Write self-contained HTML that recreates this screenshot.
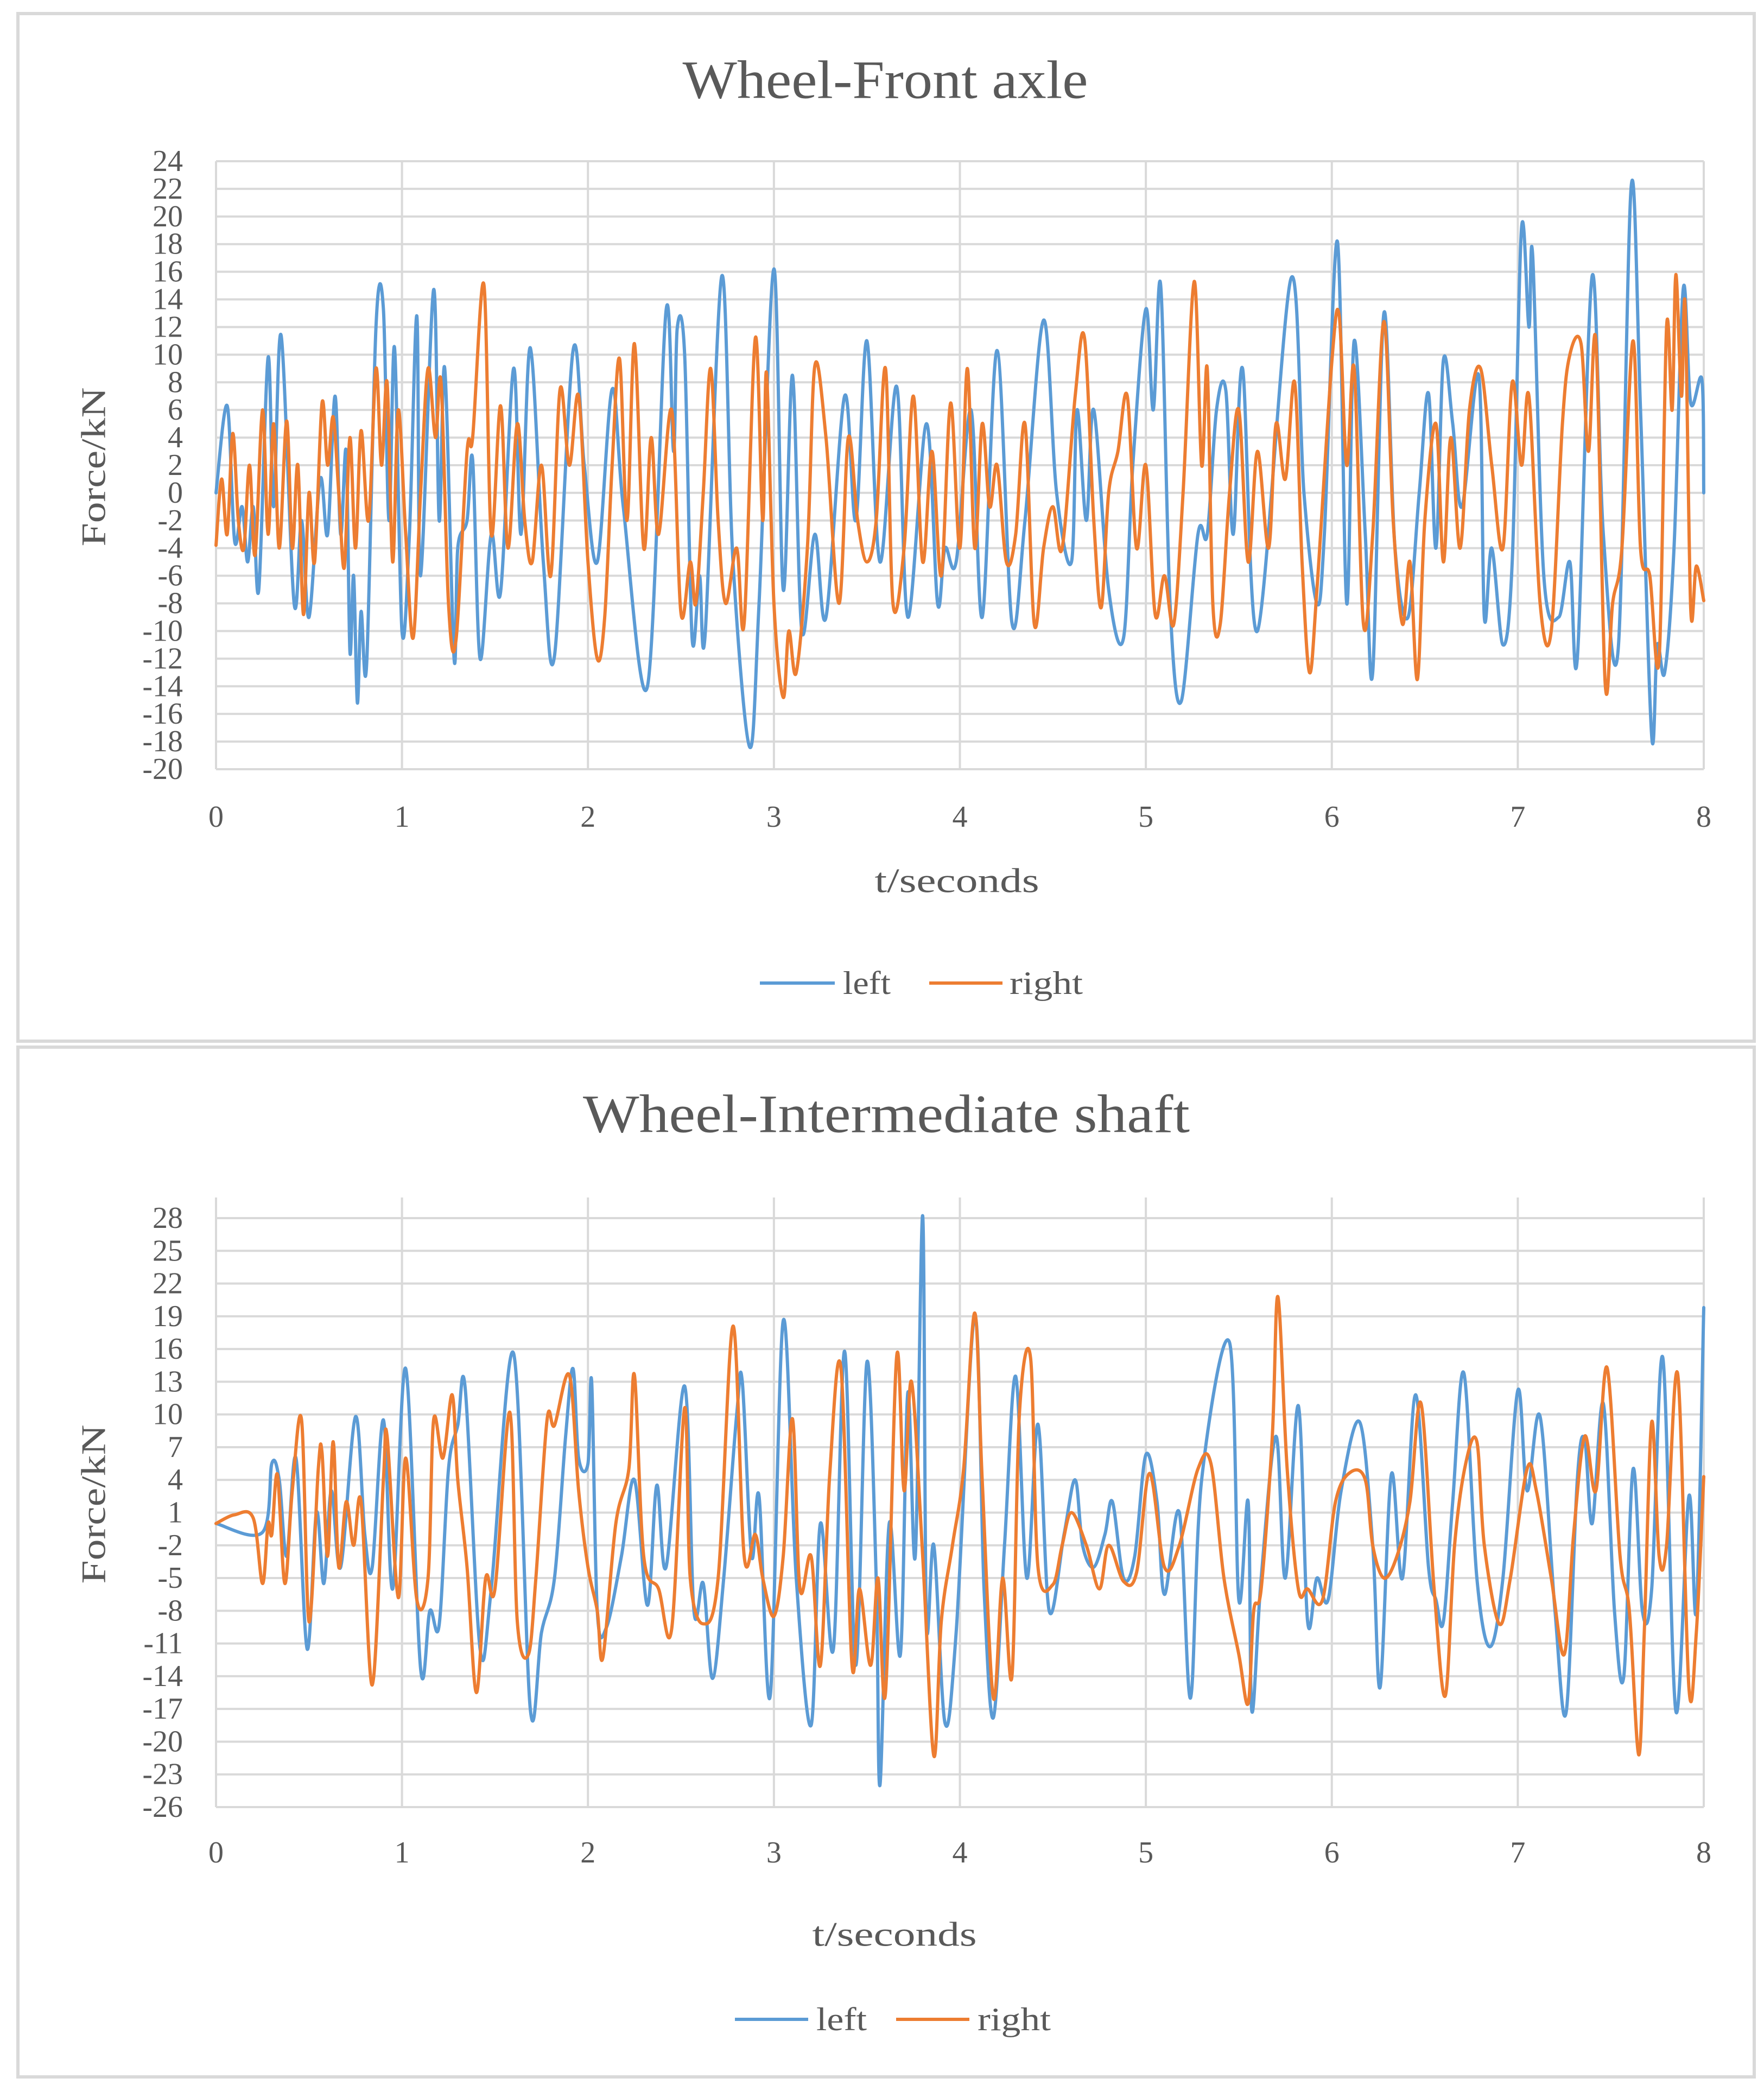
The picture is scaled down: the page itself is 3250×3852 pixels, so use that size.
<!DOCTYPE html>
<html><head><meta charset="utf-8"><style>
html,body{margin:0;padding:0;background:#fff;}
svg{display:block;}
text{font-family:"Liberation Serif",serif;fill:#595959;}
</style></head>
<body>
<svg id="svg" width="3250" height="3852" viewBox="0 0 3250 3852" xmlns="http://www.w3.org/2000/svg">
<rect x="0" y="0" width="3250" height="3852" fill="#fff"/>
<rect x="33" y="25" width="3199" height="1893" fill="#fff" stroke="#d9d9d9" stroke-width="6"/>
<rect x="33" y="1929" width="3199" height="1897" fill="#fff" stroke="#d9d9d9" stroke-width="6"/>
<g id="top"></g>
<g id="bot"></g>
<text x="1631" y="147" font-size="100" text-anchor="middle" dominant-baseline="central" textLength="747" lengthAdjust="spacingAndGlyphs">Wheel-Front axle</text>
<text x="1633" y="2052" font-size="100" text-anchor="middle" dominant-baseline="central" textLength="1118" lengthAdjust="spacingAndGlyphs">Wheel-Intermediate shaft</text>
<text x="1763" y="1622" font-size="64" text-anchor="middle" dominant-baseline="central" textLength="303" lengthAdjust="spacingAndGlyphs">t/seconds</text>
<text x="1648" y="3563" font-size="64" text-anchor="middle" dominant-baseline="central" textLength="303" lengthAdjust="spacingAndGlyphs">t/seconds</text>
<text transform="translate(172,860) rotate(-90)" font-size="64" text-anchor="middle" dominant-baseline="central" textLength="293" lengthAdjust="spacingAndGlyphs">Force/kN</text>
<text transform="translate(172,2771) rotate(-90)" font-size="64" text-anchor="middle" dominant-baseline="central" textLength="293" lengthAdjust="spacingAndGlyphs">Force/kN</text>
<g>
<line x1="1400" y1="1811" x2="1538" y2="1811" stroke="#5B9BD5" stroke-width="6"/>
<text x="1553" y="1811" font-size="60" dominant-baseline="central" textLength="88" lengthAdjust="spacingAndGlyphs">left</text>
<line x1="1712" y1="1811" x2="1847" y2="1811" stroke="#ED7D31" stroke-width="6"/>
<text x="1860" y="1811" font-size="60" dominant-baseline="central" textLength="135" lengthAdjust="spacingAndGlyphs">right</text>
</g>
<g>
<line x1="1354" y1="3720" x2="1489" y2="3720" stroke="#5B9BD5" stroke-width="6"/>
<text x="1504" y="3720" font-size="60" dominant-baseline="central" textLength="93" lengthAdjust="spacingAndGlyphs">left</text>
<line x1="1651" y1="3720" x2="1786" y2="3720" stroke="#ED7D31" stroke-width="6"/>
<text x="1801" y="3720" font-size="60" dominant-baseline="central" textLength="135" lengthAdjust="spacingAndGlyphs">right</text>
</g>
</svg>
<script>
const xTicks = [0,1,2,3,4,5,6,7,8];
const topYTicks = [24,22,20,18,16,14,12,10,8,6,4,2,0,-2,-4,-6,-8,-10,-12,-14,-16,-18,-20];
const botYTicks = [28,25,22,19,16,13,10,7,4,1,-2,-5,-8,-11,-14,-17,-20,-23,-26];

const topLeftT = [0,0.06,0.1,0.14,0.17,0.2,0.23,0.28,0.31,0.35,0.42,0.46,0.5,0.56,0.6,0.64,0.67,0.7,0.72,0.74,0.76,0.78,0.81,0.86,0.9,0.93,0.96,1.0,1.04,1.08,1.1,1.17,1.2,1.23,1.28,1.3,1.35,1.38,1.42,1.48,1.53,1.6,1.64,1.69,1.76,1.82,1.92,1.98,2.05,2.13,2.19,2.32,2.42,2.46,2.48,2.52,2.56,2.6,2.63,2.72,2.78,2.87,2.92,3.0,3.05,3.1,3.15,3.22,3.28,3.38,3.44,3.5,3.57,3.66,3.72,3.82,3.88,3.92,3.98,4.06,4.12,4.2,4.28,4.35,4.45,4.52,4.6,4.63,4.68,4.72,4.8,4.88,4.93,5.0,5.04,5.08,5.13,5.19,5.28,5.33,5.38,5.43,5.47,5.52,5.6,5.78,5.85,5.92,5.96,6.03,6.08,6.12,6.18,6.22,6.28,6.34,6.41,6.47,6.52,6.56,6.6,6.65,6.7,6.79,6.82,6.86,6.92,6.97,7.02,7.06,7.08,7.14,7.22,7.28,7.32,7.4,7.46,7.54,7.61,7.66,7.72,7.75,7.79,7.84,7.89,7.93,7.99,8.0];
const topLeftV = [0,6.3,-3.5,-1,-5,-1,-7,9.8,-1,11.4,-8,-2,-9,1,-3,7,-3,3,-11.5,-6,-15.2,-8.6,-12.4,12,13.3,-2,10.5,-10,-3,12.8,-6,14.7,-2,9,-12,-4,-2,2.4,-12,-3,-7.2,9,-3,10.5,-5,-11.8,10.3,2,-5,7.5,-1,-14,13.2,3,11.9,10,-10.5,-6,-10.3,15.7,-5,-18.4,-8,16.2,-7,8.5,-10,-3,-9,7,-2,11,-5,7.7,-9,5,-8,-4,-5,6,-9,10.3,-9.4,-2,12.5,0,-5,6,-2,6,-7,-10.5,2,13.3,6,15,-8,-15.1,-3,-3,6,7.4,-3,9,-10,15.5,0,-8,-3,18.2,-8,11,-3,-13,13,-4,-9,0,7.2,-4,9.6,5,-1,8.5,-9,-4,-11,-5,19.1,12,17.2,-6,-9,-5,-12,15.7,-3,-11.3,22.2,6,-17.6,-11,-13,-4,14.8,6.5,8.2,0];

const topRightT = [0,0.03,0.06,0.09,0.12,0.15,0.18,0.21,0.25,0.28,0.31,0.34,0.38,0.41,0.44,0.47,0.5,0.53,0.57,0.6,0.63,0.66,0.69,0.72,0.75,0.78,0.82,0.86,0.89,0.92,0.95,0.98,1.02,1.06,1.1,1.14,1.18,1.21,1.25,1.29,1.35,1.38,1.44,1.48,1.53,1.57,1.62,1.66,1.7,1.75,1.8,1.85,1.9,1.95,2.0,2.05,2.09,2.13,2.17,2.21,2.25,2.3,2.34,2.38,2.45,2.5,2.55,2.58,2.62,2.66,2.7,2.74,2.8,2.84,2.9,2.94,2.96,3.0,3.05,3.08,3.12,3.18,3.22,3.28,3.35,3.4,3.45,3.5,3.55,3.6,3.64,3.7,3.75,3.8,3.85,3.9,3.95,4.0,4.04,4.08,4.12,4.16,4.2,4.25,4.3,4.35,4.4,4.45,4.5,4.55,4.62,4.67,4.72,4.76,4.8,4.85,4.9,4.95,5.0,5.05,5.1,5.15,5.2,5.26,5.3,5.33,5.36,5.4,5.45,5.5,5.55,5.6,5.66,5.7,5.75,5.8,5.84,5.88,5.92,6.0,6.04,6.08,6.12,6.17,6.22,6.28,6.33,6.38,6.42,6.46,6.5,6.56,6.6,6.64,6.69,6.74,6.8,6.86,6.92,6.97,7.02,7.06,7.12,7.18,7.24,7.28,7.34,7.38,7.42,7.47,7.51,7.56,7.62,7.66,7.71,7.76,7.8,7.83,7.85,7.88,7.9,7.93,7.96,8.0];
const topRightV = [-3.8,1,-3,4.3,-2,-4,2,-4.5,6,-3,5,-4,5.2,-4,2,-8.8,0,-5,6.5,2,5.5,0,-5.4,4,-4,4.5,-2,9,2,8,-5,6,-3,-10.5,0,9,4,8,-8,-10.7,3,4,15.1,-3,6.3,-4,5,-2,-5,2,-6,7.5,2,7,-5,-12,-9,2,9.7,-2,10.8,-4,4,-3,6,-8.7,-5,-8,0,9,-2,-8,-4,-9.4,11.2,-2,8.7,-8,-14.8,-10,-13,-4,9.2,4,-8,4,-2,-5,-2,9,-8,-4,7,-5,3,-6,6.5,-4,9,-4,5,-1,2,-5,-3,5,-9.5,-4,-1,-4,7,11.2,-2,-8.3,0,3,7,-4,2,-8.8,-6,-9.5,0,15.3,2,9,-8,-9.5,0,6,-5,3,-4,5,1,8,-5,-13,-7,9.5,12.8,2,9,-9.5,-3,12.4,-2,-9.5,-5,-13.5,-2,5,-5,4,-4,6,9,2,-4,8,2,7,-8,-10,5,10,10.8,3,11,-13.8,-8,-4,11,-4,-6,-12,12,6,15.8,7,13.6,-8.4,-5.3,-7.8];

const botLeftT = [0,0.25,0.3,0.34,0.38,0.43,0.49,0.54,0.58,0.62,0.67,0.75,0.8,0.84,0.9,0.95,1.02,1.1,1.15,1.2,1.25,1.3,1.34,1.42,1.48,1.6,1.69,1.75,1.82,1.88,1.92,1.95,2.0,2.02,2.05,2.1,2.18,2.25,2.32,2.37,2.42,2.52,2.57,2.62,2.67,2.73,2.8,2.83,2.88,2.92,2.98,3.05,3.12,3.2,3.25,3.32,3.38,3.44,3.5,3.55,3.57,3.62,3.68,3.72,3.76,3.8,3.82,3.86,3.92,3.98,4.08,4.13,4.18,4.24,4.3,4.36,4.42,4.48,4.56,4.62,4.66,4.72,4.78,4.82,4.88,4.94,5.0,5.06,5.1,5.18,5.24,5.3,5.45,5.5,5.55,5.57,5.62,5.7,5.75,5.82,5.87,5.92,5.98,6.05,6.15,6.22,6.26,6.32,6.38,6.45,6.52,6.56,6.6,6.65,6.71,6.78,6.85,6.92,7.0,7.05,7.12,7.2,7.26,7.32,7.36,7.4,7.46,7.52,7.57,7.62,7.67,7.72,7.78,7.85,7.92,7.96,8.0];
const botLeftV = [0,-0.8,5.5,4,-3,6,-11.5,1,-5.5,3,-4,9.8,-1,-4,9.5,-6,14.2,-13.3,-8,-9.3,5,9,12.4,-11.5,-6,15.6,-17,-10,-5,8,14.2,6,5.5,13,-8,-9.5,-3,4,-7.5,3.5,-4,12.6,-8,-5.5,-14.2,-5,10,13,-3,2.5,-15.8,18.6,-5,-18.5,0,-11.5,15.8,-13,14.8,-5,-24,0,-12,12,-3,28.2,-9,-2,-18.3,-10,19,-6,-17.8,-2,13.5,-5,9.1,-8,-1,4,-2,-4,-1,2,-5,-3,6.3,2,-6.5,1,-16,4,16.6,-7,2,-17.2,-5,8,-5,10.8,-9,-5,-7,3,9.3,-2,-15,4.5,-5,11.8,-4,-7,-9,2,13.8,-5,-11.3,-5,12.2,3,9.8,-8,-17.3,4,7.7,0,11,-8,-14,5,-8,-6,15.2,-17.2,2.5,-8,19.8];

const botRightT = [0,0.1,0.2,0.25,0.28,0.3,0.33,0.37,0.41,0.46,0.5,0.55,0.57,0.6,0.63,0.66,0.7,0.74,0.78,0.84,0.9,0.92,0.98,1.02,1.08,1.14,1.17,1.22,1.27,1.3,1.35,1.4,1.45,1.5,1.58,1.62,1.68,1.72,1.78,1.82,1.9,1.95,2.0,2.05,2.08,2.15,2.22,2.25,2.3,2.38,2.45,2.52,2.55,2.62,2.7,2.78,2.84,2.9,2.94,3.0,3.05,3.1,3.14,3.2,3.25,3.3,3.36,3.42,3.46,3.52,3.56,3.6,3.66,3.7,3.74,3.8,3.86,3.9,3.96,4.02,4.08,4.12,4.18,4.23,4.28,4.32,4.38,4.42,4.5,4.55,4.6,4.68,4.75,4.8,4.88,4.95,5.02,5.1,5.18,5.28,5.35,5.42,5.5,5.55,5.58,5.62,5.68,5.71,5.76,5.82,5.87,5.95,6.02,6.1,6.18,6.22,6.28,6.35,6.42,6.48,6.55,6.61,6.66,6.72,6.78,6.82,6.9,6.96,7.05,7.1,7.18,7.25,7.3,7.36,7.42,7.48,7.55,7.6,7.65,7.68,7.72,7.76,7.8,7.86,7.92,7.96,8.0];
const botRightV = [0,0.8,0.5,-5.5,0,-1,4.5,-5.5,3,9.5,-9,5,6.5,-3,7.5,-4,2,-2,2,-14.8,4,8,-6.8,6,-7,-5,9.5,6,11.8,4,-4,-15.5,-5,-6,10.2,-9,-12,-5,9.5,9,13.6,3,-4,-8,-12.3,0,5,13.6,-3,-6,-9.7,10.6,-5,-9.2,-5,18.1,-3,-1,-5,-8.5,-3,9.6,-6,-3,-13,4.5,14.3,-13,-6,-13,-5,-15.5,15.3,3,13,-3,-21.3,-9,-2,5,19.3,4,-16,-5,-14,10,15.2,-4,-5.6,-2,1,-2,-6,-2,-5.3,-4.5,4.6,-4,-2,5,5.5,-5,-12,-16.5,-8,-6,8,20.8,5,-6,-6,-7,2,4.7,4,-2,-5,-3,2,11,-6,-15.8,-2,5.5,7.5,-2,-9.2,-5,5,3,-5,-12,-1,8,3,14.3,-3,-8,-21.2,-10,9.3,-3,-2,13.7,-15,-10,4.3];

const NS='http://www.w3.org/2000/svg';
function mk(tag, attrs, parent){const e=document.createElementNS(NS,tag);for(const k in attrs)e.setAttribute(k,attrs[k]);parent.appendChild(e);return e;}
function smoothPath(pts){
  let d='M'+pts[0][0].toFixed(1)+','+pts[0][1].toFixed(1);
  for(let i=0;i<pts.length-1;i++){
    const p0=pts[i>0?i-1:i],p1=pts[i],p2=pts[i+1],p3=pts[i+2<pts.length?i+2:i+1];
    const c1x=p1[0]+(p2[0]-p0[0])/6,c1y=p1[1]+(p2[1]-p0[1])/6;
    const c2x=p2[0]-(p3[0]-p1[0])/6,c2y=p2[1]-(p3[1]-p1[1])/6;
    d+=' C'+c1x.toFixed(1)+','+c1y.toFixed(1)+' '+c2x.toFixed(1)+','+c2y.toFixed(1)+' '+p2[0].toFixed(1)+','+p2[1].toFixed(1);
  }
  return d;
}
function drawChart(g, prefix, cfg, yTicks, series){
  const X0=398,X1=3139;
  const xs=t=>X0+(t-xTicks[0])/(xTicks[xTicks.length-1]-xTicks[0])*(X1-X0);
  const ys=v=>cfg.yTopPix+(cfg.vTop-v)/(cfg.vTop-cfg.vBot)*(cfg.yBotPix-cfg.yTopPix);
  yTicks.forEach(v=>{
    const l=mk('line',{x1:X0,x2:X1,y1:ys(v),y2:ys(v),stroke:'#d9d9d9','stroke-width':4},g);
    
    
    const t=mk('text',{x:337,y:ys(v),'font-size':56,'text-anchor':'end','dominant-baseline':'central'},g);
    t.textContent=String(v);
    
    
  });
  xTicks.forEach(v=>{
    const l=mk('line',{x1:xs(v),x2:xs(v),y1:cfg.axisTop,y2:cfg.yBotPix,stroke:'#d9d9d9','stroke-width':4},g);
    
    
    const t=mk('text',{x:xs(v),y:cfg.xLabelY,'font-size':56,'text-anchor':'middle','dominant-baseline':'central'},g);
    t.textContent=String(v);
    
    
  });
  series.forEach(s=>{
    const pts=s.t.map((t,i)=>[xs(t),ys(s.v[i])]);
    const p=mk('path',{d:smoothPath(pts),fill:'none',stroke:s.color,'stroke-width':6,'stroke-linejoin':'round','stroke-linecap':'round'},g);
    
    
  });
}
drawChart(document.getElementById('top'),'top',{yTopPix:297,yBotPix:1417,vTop:24,vBot:-20,axisTop:297,xLabelY:1505},topYTicks,
  [{name:'left',t:topLeftT,v:topLeftV,color:'#5B9BD5'},{name:'right',t:topRightT,v:topRightV,color:'#ED7D31'}]);
drawChart(document.getElementById('bot'),'bottom',{yTopPix:2244,yBotPix:3329,vTop:28,vBot:-26,axisTop:2206,xLabelY:3413},botYTicks,
  [{name:'left',t:botLeftT,v:botLeftV,color:'#5B9BD5'},{name:'right',t:botRightT,v:botRightV,color:'#ED7D31'}]);
</script>
</body></html>
